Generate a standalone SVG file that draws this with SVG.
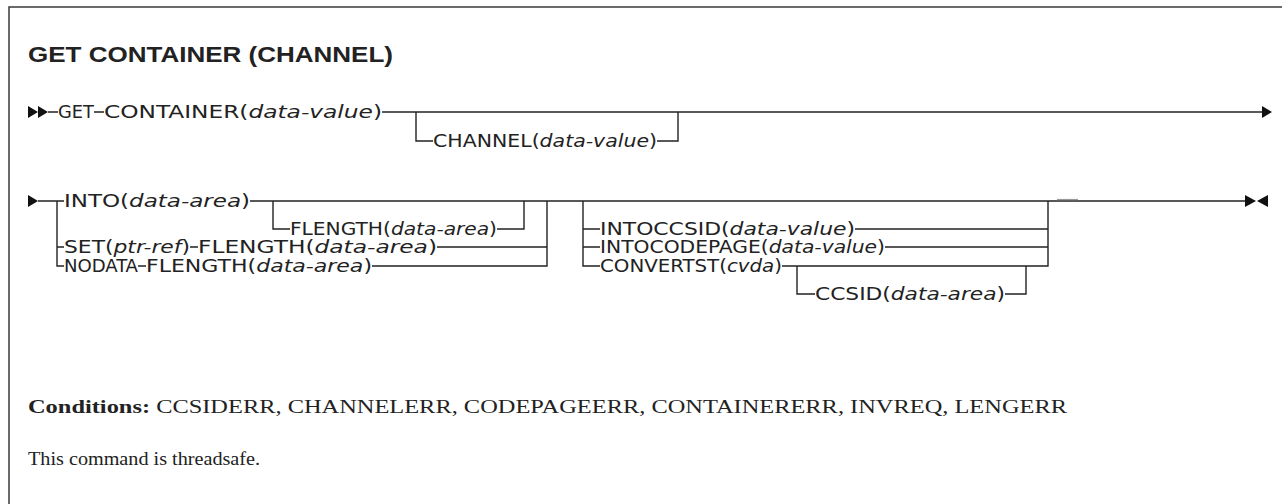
<svg xmlns="http://www.w3.org/2000/svg" width="1282" height="504" viewBox="0 0 1282 504">
<style>
.bg{fill:#fff}
.frame{fill:none;stroke:#3a3a3a;stroke-width:1.5}
.ln{fill:none;stroke:#222;stroke-width:1.4}
.ah{fill:#111}
.title{font-family:"Liberation Sans",Arial,sans-serif;font-weight:bold;font-size:22px;fill:#222}
.syn{font-family:"DejaVu Sans Condensed","DejaVu Sans",sans-serif;font-stretch:condensed;font-size:17px;fill:#222}
.it{font-style:italic}
.body{font-family:"Liberation Serif","Times New Roman",serif;font-size:19px;fill:#222}
.b{font-weight:bold}
</style>
<rect class="bg" x="0" y="0" width="1282" height="504"/>
<path class="frame" d="M9,504 V7 H1282"/>
<text class="title" x="28" y="62" textLength="365" lengthAdjust="spacingAndGlyphs">GET CONTAINER (CHANNEL)</text>

<g id="connectors">
  <!-- row 1 -->
  <path class="ln" d="M48,112 H58 M94,112 H104 M382,112 H1262"/>
  <path class="ln" d="M416,112 V141 H433 M657,141 H678 V112"/>
  <!-- row 2 main -->
  <path class="ln" d="M38,201 H64 M250,201 H1245"/>
  <!-- first group -->
  <path class="ln" d="M57,201 V266 H64 M57,247 H64"/>
  <path class="ln" d="M273,201 V229 H290 M497,229 H524 V201"/>
  <path class="ln" d="M190,247 H198 M437,247 H547"/>
  <path class="ln" d="M138,266 H146 M372,266 H547 V201"/>
  <!-- second group -->
  <path class="ln" d="M583,201 V266 H600 M583,229 H600 M583,247 H600"/>
  <path class="ln" d="M855,229 H1048 M885,247 H1048 M782,266 H1048 V201"/>
  <path class="ln" d="M797,266 V294 H815 M1005,294 H1026 V266"/>
  <path d="M1057,199.5 H1078" fill="none" stroke="#999" stroke-width="1.2"/>
</g>

<g id="markers">
  <polygon class="ah" points="28,106 38,112 28,118"/>
  <polygon class="ah" points="38,106 48,112 38,118"/>
  <polygon class="ah" points="1262,106 1272,112 1262,118"/>
  <polygon class="ah" points="28,195 38,201 28,207"/>
  <polygon class="ah" points="1245,195 1256,201 1245,207"/>
  <polygon class="ah" points="1268,195 1257,201 1268,207"/>
</g>

<g id="n-get"><text class="syn" x="58" y="118" textLength="36" lengthAdjust="spacingAndGlyphs">GET</text></g>
<g id="n-container"><text class="syn" x="104" y="118" textLength="278" lengthAdjust="spacingAndGlyphs">CONTAINER(<tspan class="it">data-value</tspan>)</text></g>
<g id="n-channel"><text class="syn" x="433" y="147" textLength="224" lengthAdjust="spacingAndGlyphs">CHANNEL(<tspan class="it">data-value</tspan>)</text></g>

<g id="n-into"><text class="syn" x="64" y="207" textLength="186" lengthAdjust="spacingAndGlyphs">INTO(<tspan class="it">data-area</tspan>)</text></g>
<g id="n-flength1"><text class="syn" x="290" y="235" textLength="207" lengthAdjust="spacingAndGlyphs">FLENGTH(<tspan class="it">data-area</tspan>)</text></g>
<g id="n-set"><text class="syn" x="64" y="253" textLength="126" lengthAdjust="spacingAndGlyphs">SET(<tspan class="it">ptr-ref</tspan>)</text></g>
<g id="n-flength2"><text class="syn" x="198" y="253" textLength="239" lengthAdjust="spacingAndGlyphs">FLENGTH(<tspan class="it">data-area</tspan>)</text></g>
<g id="n-nodata"><text class="syn" x="64" y="272" textLength="74" lengthAdjust="spacingAndGlyphs">NODATA</text></g>
<g id="n-flength3"><text class="syn" x="146" y="272" textLength="226" lengthAdjust="spacingAndGlyphs">FLENGTH(<tspan class="it">data-area</tspan>)</text></g>

<g id="n-intoccsid"><text class="syn" x="600" y="235" textLength="255" lengthAdjust="spacingAndGlyphs">INTOCCSID(<tspan class="it">data-value</tspan>)</text></g>
<g id="n-intocodepage"><text class="syn" x="600" y="253" textLength="285" lengthAdjust="spacingAndGlyphs">INTOCODEPAGE(<tspan class="it">data-value</tspan>)</text></g>
<g id="n-convertst"><text class="syn" x="600" y="272" textLength="182" lengthAdjust="spacingAndGlyphs">CONVERTST(<tspan class="it">cvda</tspan>)</text></g>
<g id="n-ccsid"><text class="syn" x="815" y="300" textLength="190" lengthAdjust="spacingAndGlyphs">CCSID(<tspan class="it">data-area</tspan>)</text></g>

<g id="footer">
  <text class="body" x="28" y="413" textLength="1039" lengthAdjust="spacingAndGlyphs"><tspan class="b">Conditions:</tspan> CCSIDERR, CHANNELERR, CODEPAGEERR, CONTAINERERR, INVREQ, LENGERR</text>
  <text class="body" x="28" y="465" textLength="232" lengthAdjust="spacingAndGlyphs">This command is threadsafe.</text>
</g>
</svg>
